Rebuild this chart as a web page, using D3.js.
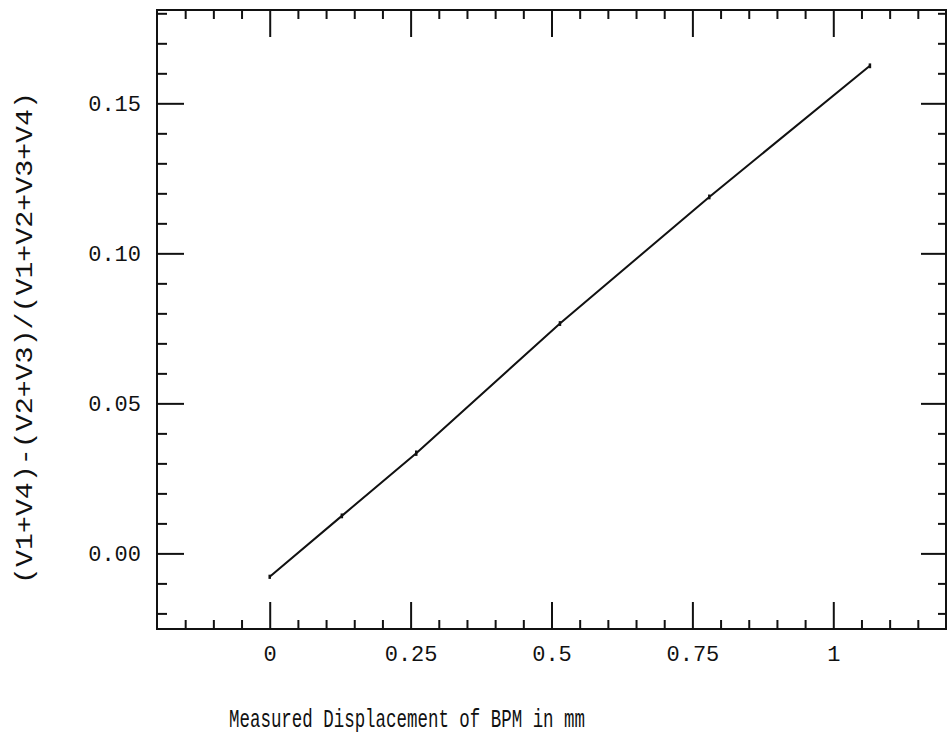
<!DOCTYPE html>
<html>
<head>
<meta charset="utf-8">
<script src="https://cdn.jsdelivr.net/npm/d3@7"></script>
<style>
  body { margin: 0; background: #fff; }
  text { font-family: "Liberation Mono", "DejaVu Sans Mono", monospace; fill: #111; }
</style>
</head>
<body>
<div id="graph"></div>
<script>
// measured points (displacement in mm, asymmetry ratio)
var displacement = [0, 0.128, 0.26, 0.515, 0.78, 1.065];
var asymmetry = [-0.0078, 0.0125, 0.0334, 0.0766, 0.1188, 0.1625];
var errBar = [0.0007, 0.0008, 0.0009, 0.0008, 0.0008, 0.0008];

var xMajor = [0, 0.25, 0.5, 0.75, 1];
var xMajorLabels = ["0", "0.25", "0.5", "0.75", "1"];
var yMajor = [0, 0.05, 0.10, 0.15];
var yMajorLabels = ["0.00", "0.05", "0.10", "0.15"];

var width = 947, height = 734;
var margin = {top: 10, right: 1, bottom: 105, left: 157};

var x = d3.scaleLinear().domain([-0.2, 1.2]).range([margin.left, width - margin.right]);
var y = d3.scaleLinear().domain([-0.0252, 0.1811]).range([height - margin.bottom, margin.top]);

var xMinor = d3.range(-0.15, 1.2, 0.05).map(function(d) { return +d.toFixed(2); })
               .filter(function(d) { return xMajor.indexOf(d) < 0; });
var yMinor = d3.range(-0.02, 0.181, 0.01).map(function(d) { return +d.toFixed(2); })
               .filter(function(d) { return yMajor.indexOf(d) < 0; });

var svg = d3.select("#graph").append("svg")
            .attr("width", width)
            .attr("height", height);

function styleAxis(g) {
    g.attr("font-family", null).attr("font-size", null);
    g.select(".domain").remove();
    g.selectAll("line").attr("stroke", "#111").attr("stroke-width", 2);
    g.selectAll("text").style("font-size", "22px").attr("fill", "#111");
}

var x0 = margin.left, x1 = width - margin.right;
var y0 = height - margin.bottom, y1 = margin.top;

// bottom
svg.append("g").attr("transform", "translate(0," + y0 + ")")
    .call(d3.axisBottom(x).tickValues(xMinor).tickSizeInner(-9).tickSizeOuter(0).tickFormat(""))
    .call(styleAxis);
svg.append("g").attr("transform", "translate(0," + y0 + ")")
    .call(d3.axisBottom(x).tickValues(xMajor).tickSizeInner(-27).tickSizeOuter(0).tickPadding(16)
          .tickFormat(function(d, i) { return xMajorLabels[i]; }))
    .call(styleAxis);
// top
svg.append("g").attr("transform", "translate(0," + y1 + ")")
    .call(d3.axisTop(x).tickValues(xMinor).tickSizeInner(-9).tickSizeOuter(0).tickFormat(""))
    .call(styleAxis);
svg.append("g").attr("transform", "translate(0," + y1 + ")")
    .call(d3.axisTop(x).tickValues(xMajor).tickSizeInner(-27).tickSizeOuter(0).tickFormat(""))
    .call(styleAxis);
// left
svg.append("g").attr("transform", "translate(" + x0 + ",0)")
    .call(d3.axisLeft(y).tickValues(yMinor).tickSizeInner(-10).tickSizeOuter(0).tickFormat(""))
    .call(styleAxis);
svg.append("g").attr("transform", "translate(" + x0 + ",0)")
    .call(d3.axisLeft(y).tickValues(yMajor).tickSizeInner(-27).tickSizeOuter(0).tickPadding(16)
          .tickFormat(function(d, i) { return yMajorLabels[i]; }))
    .call(styleAxis);
// right
svg.append("g").attr("transform", "translate(" + x1 + ",0)")
    .call(d3.axisRight(y).tickValues(yMinor).tickSizeInner(-8).tickSizeOuter(0).tickFormat(""))
    .call(styleAxis);
svg.append("g").attr("transform", "translate(" + x1 + ",0)")
    .call(d3.axisRight(y).tickValues(yMajor).tickSizeInner(-25).tickSizeOuter(0).tickFormat(""))
    .call(styleAxis);

// frame
svg.append("rect")
    .attr("x", x0).attr("y", y1)
    .attr("width", x1 - x0).attr("height", y0 - y1)
    .attr("fill", "none").attr("stroke", "#111").attr("stroke-width", 2);

var pts = displacement.map(function(d, i) { return [d, asymmetry[i], errBar[i]]; });

var line = d3.line()
    .x(function(d) { return x(d[0]); })
    .y(function(d) { return y(d[1]); });

svg.append("path")
    .datum(pts)
    .attr("d", line)
    .attr("fill", "none")
    .attr("stroke", "#111")
    .attr("stroke-width", 2);

svg.append("g").selectAll("line")
    .data(pts)
    .enter().append("line")
    .attr("x1", function(d) { return x(d[0]); })
    .attr("x2", function(d) { return x(d[0]); })
    .attr("y1", function(d) { return y(d[1] - d[2]); })
    .attr("y2", function(d) { return y(d[1] + d[2]); })
    .attr("stroke", "#111")
    .attr("stroke-width", 2.5);

// axis titles
svg.append("text")
    .attr("x", 229).attr("y", 727)
    .style("font-size", "25px")
    .attr("textLength", 356)
    .attr("lengthAdjust", "spacingAndGlyphs")
    .text("Measured Displacement of BPM in mm");

svg.append("text")
    .attr("transform", "translate(32,338) rotate(-90)")
    .attr("text-anchor", "middle")
    .style("font-size", "24px")
    .attr("textLength", 492)
    .attr("lengthAdjust", "spacingAndGlyphs")
    .text("(V1+V4)-(V2+V3)/(V1+V2+V3+V4)");
</script>
</body>
</html>
